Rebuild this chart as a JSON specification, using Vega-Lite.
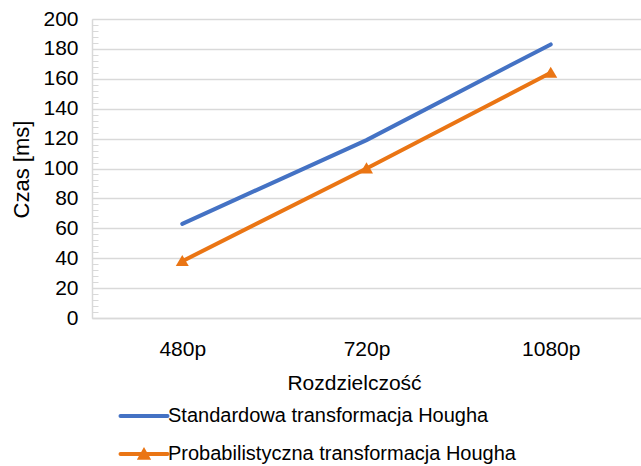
{
  "$schema": "https://vega.github.io/schema/vega-lite/v6.json",
  "width": 549,
  "height": 299,
  "autosize": "none",
  "padding": {"left": 92, "top": 19, "right": 0, "bottom": 148},
  "background": "white",
  "config": {
    "font": "Liberation Sans",
    "view": {"stroke": null}
  },
  "data": {
    "values": [
      {"res": "480p", "series": "Standardowa transformacja Hougha", "time": 63},
      {"res": "720p", "series": "Standardowa transformacja Hougha", "time": 119},
      {"res": "1080p", "series": "Standardowa transformacja Hougha", "time": 183},
      {"res": "480p", "series": "Probabilistyczna transformacja Hougha", "time": 38},
      {"res": "720p", "series": "Probabilistyczna transformacja Hougha", "time": 100},
      {"res": "1080p", "series": "Probabilistyczna transformacja Hougha", "time": 164}
    ]
  },
  "resolve": {"axis": {"y": "independent"}},
  "layer": [
    {
      "mark": {"type": "line", "strokeWidth": 4, "strokeCap": "round"},
      "encoding": {
        "x": {
          "field": "res", "type": "ordinal", "sort": ["480p", "720p", "1080p"],
          "scale": {"type": "point", "padding": 0.49},
          "axis": {
            "title": "Rozdzielczość", "labelAngle": 0,
            "domainColor": "#d9d9d9", "domainWidth": 1.5,
            "ticks": false, "tickSize": 0, "grid": false,
            "labelPadding": 37, "labelBaseline": "alphabetic",
            "labelFontSize": 21, "labelColor": "#000",
            "titleFontSize": 21, "titleFontWeight": "normal", "titleColor": "#000",
            "titleX": 262, "titleY": 71, "titleBaseline": "alphabetic",
            "encode": {"labels": {"update": {"dx": {"signal": "-3 - 20 * datum.index"}}}}
          }
        },
        "y": {
          "field": "time", "type": "quantitative",
          "scale": {"domain": [0, 200], "nice": false},
          "axis": {
            "title": "Czas [ms]",
            "values": [0, 20, 40, 60, 80, 100, 120, 140, 160, 180, 200],
            "grid": true, "gridColor": "#d9d9d9", "gridWidth": 1.5,
            "domainColor": "#d9d9d9", "domainWidth": 1.5,
            "ticks": false, "tickSize": 0,
            "labelPadding": 14, "labelFontSize": 21, "labelColor": "#000",
            "titleFontSize": 22, "titleFontWeight": "normal", "titleColor": "#000",
            "titleX": -71, "titleY": 150, "titleBaseline": "middle", "titleAlign": "center"
          }
        },
        "color": {
          "field": "series", "type": "nominal",
          "scale": {
            "domain": ["Standardowa transformacja Hougha", "Probabilistyczna transformacja Hougha"],
            "range": ["#4472C4", "#EA7514"]
          },
          "legend": {
            "orient": "none", "legendX": 26, "legendY": 383,
            "title": null, "direction": "vertical", "padding": 0,
            "labelFontSize": 20, "labelColor": "#000", "labelLimit": 0,
            "symbolSize": 552, "symbolStrokeWidth": 4,
            "symbolOffset": 12, "labelOffset": 10, "rowPadding": 14,
            "encode": {
              "symbols": {
                "update": {
                  "shape": {"signal": "datum.value === 'Probabilistyczna transformacja Hougha' ? 'M-2,0H2M-0.32,0.32L0,-0.25L0.32,0.32Z' : 'M-2,0H2'"},
                  "fill": {"signal": "scale('color', datum.value)"},
                  "stroke": {"signal": "scale('color', datum.value)"},
                  "strokeWidth": {"value": 4},
                  "strokeCap": {"value": "round"}
                }
              }
            }
          }
        }
      }
    },
    {
      "transform": [{"filter": "datum.series === 'Probabilistyczna transformacja Hougha'"}],
      "mark": {"type": "point", "shape": "M-1,0.75L0,-0.95L1,0.75Z", "size": 169, "filled": true, "opacity": 1},
      "encoding": {
        "x": {"field": "res", "type": "ordinal", "sort": ["480p", "720p", "1080p"]},
        "y": {"field": "time", "type": "quantitative", "axis": null},
        "color": {"field": "series", "type": "nominal"}
      }
    },
    {
      "mark": {"type": "point", "opacity": 0},
      "encoding": {
        "x": {"field": "res", "type": "ordinal", "sort": ["480p", "720p", "1080p"]},
        "y": {
          "field": "time", "type": "quantitative",
          "axis": {
            "orient": "left", "title": null, "labels": false, "grid": false, "domain": false,
            "values": [0, 4, 8, 12, 16, 20, 24, 28, 32, 36, 40, 44, 48, 52, 56, 60, 64, 68, 72, 76, 80, 84, 88, 92, 96, 100, 104, 108, 112, 116, 120, 124, 128, 132, 136, 140, 144, 148, 152, 156, 160, 164, 168, 172, 176, 180, 184, 188, 192, 196, 200],
            "ticks": true, "tickSize": 6, "tickColor": "#d9d9d9", "tickWidth": 1, "offset": -6
          }
        }
      }
    }
  ]
}
